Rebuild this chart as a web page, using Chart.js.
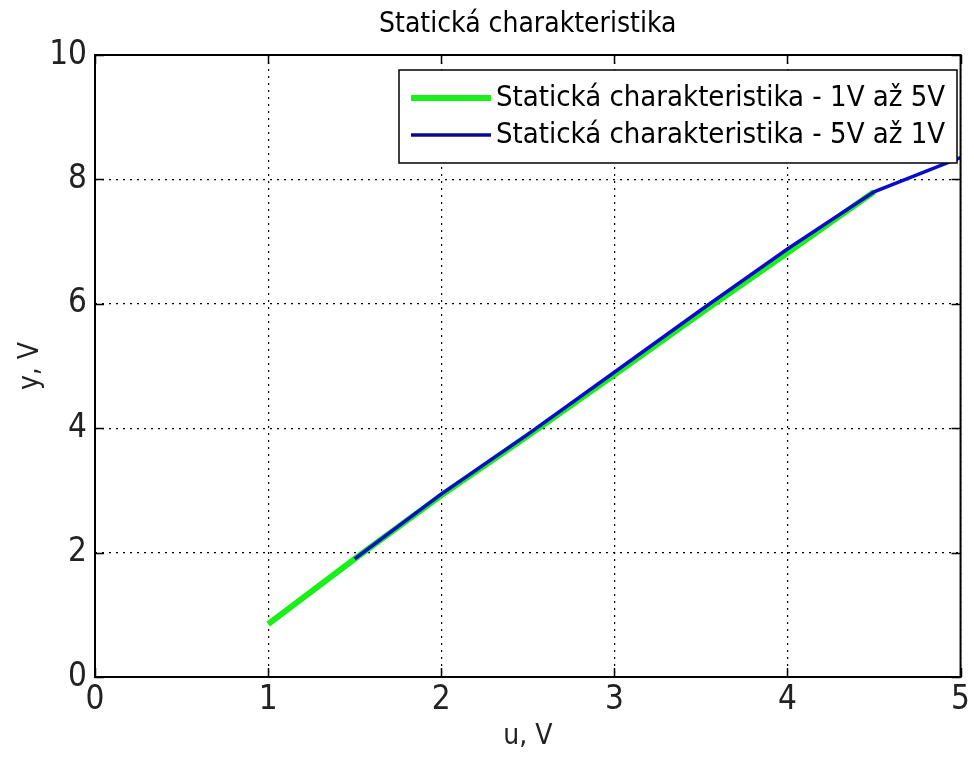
<!DOCTYPE html>
<html>
<head>
<meta charset="utf-8">
<script src="https://cdn.jsdelivr.net/npm/chart.js@4"></script>
<style>
  html, body { margin: 0; padding: 0; background: #fff; }
  #wrap { width: 974px; height: 758px; }
</style>
</head>
<body>
<div id="wrap"><canvas id="graf"></canvas></div>
<script>
// data
const uNahoru = [1, 1.5, 2, 2.5, 3, 3.5, 4, 4.5];
const yNahoru = [0.85, 1.9, 2.92, 3.88, 4.86, 5.85, 6.82, 7.8];
const uDolu = [5, 4.5, 4, 3.5, 3, 2.5, 2, 1.5];
const yDolu = [8.35, 7.8, 6.88, 5.9, 4.9, 3.9, 2.94, 1.9];
const xTicks = [0, 1, 2, 3, 4, 5];
const yTicks = [0, 2, 4, 6, 8, 10];

const PISMO = "'Liberation Sans Narrow', 'DejaVu Sans Condensed', 'Arial Narrow', Arial, sans-serif";

function body(us, ys) {
    return us.map((u, i) => ({ x: u, y: ys[i] }));
}

// frame, inner ticks, title and legend drawn like MATLAB does
const matlabStyl = {
    id: 'matlabStyl',
    afterDraw(chart) {
        const ctx = chart.ctx;
        const a = chart.chartArea;
        const sx = chart.scales.x, sy = chart.scales.y;
        ctx.save();
        ctx.strokeStyle = '#000';
        ctx.lineWidth = 2;
        ctx.strokeRect(a.left, a.top, a.right - a.left, a.bottom - a.top);

        ctx.lineWidth = 1.5;
        xTicks.forEach(t => {
            const px = Math.round(sx.getPixelForValue(t)) + 0.5;
            ctx.beginPath();
            ctx.moveTo(px, a.bottom); ctx.lineTo(px, a.bottom - 9);
            ctx.moveTo(px, a.top); ctx.lineTo(px, a.top + 9);
            ctx.stroke();
        });
        yTicks.forEach(t => {
            const py = Math.round(sy.getPixelForValue(t)) + 0.5;
            ctx.beginPath();
            ctx.moveTo(a.left, py); ctx.lineTo(a.left + 9, py);
            ctx.moveTo(a.right, py); ctx.lineTo(a.right - 9, py);
            ctx.stroke();
        });

        // title
        ctx.fillStyle = '#000';
        ctx.font = '28px ' + PISMO;
        ctx.textAlign = 'center';
        ctx.textBaseline = 'middle';
        ctx.fillText('Statická charakteristika', (a.left + a.right) / 2, 25);

        // legend box
        const lx = 399, ly = 70, lw = 558, lh = 93;
        ctx.fillStyle = '#fff';
        ctx.fillRect(lx, ly, lw, lh);
        ctx.strokeStyle = '#000';
        ctx.lineWidth = 1.5;
        ctx.strokeRect(lx, ly, lw, lh);
        ctx.font = '29px ' + PISMO;
        ctx.textAlign = 'left';
        chart.data.datasets.forEach((ds, i) => {
            const ry = ly + 28 + i * 37;
            ctx.strokeStyle = ds.legendColor || ds.borderColor;
            ctx.lineWidth = ds.borderWidth;
            ctx.beginPath();
            ctx.moveTo(lx + 12, ry); ctx.lineTo(lx + 92, ry);
            ctx.stroke();
            ctx.fillStyle = '#000';
            ctx.fillText(ds.label, lx + 97, ry);
        });
        ctx.restore();
    }
};

const ctx = document.getElementById('graf').getContext('2d');
new Chart(ctx, {
    type: 'line',
    data: {
        datasets: [{
            label: 'Statická charakteristika - 1V až 5V',
            data: body(uNahoru, yNahoru),
            borderColor: '#19ef19',
            borderWidth: 6,
            pointRadius: 0,
            order: 2
        }, {
            label: 'Statická charakteristika - 5V až 1V',
            data: body(uDolu, yDolu),
            borderColor: '#0b0bc8',
            legendColor: '#0a0a90',
            borderWidth: 3.5,
            pointRadius: 0,
            order: 1
        }]
    },
    options: {
        responsive: true,
        maintainAspectRatio: false,
        animation: false,
        layout: { padding: { top: 55, right: 11, left: 0, bottom: 0 } },
        plugins: {
            legend: { display: false },
            tooltip: { enabled: false },
            title: { display: false }
        },
        scales: {
            x: {
                type: 'linear',
                min: 0,
                max: 5,
                afterBuildTicks: s => { s.ticks = xTicks.map(v => ({ value: v })); },
                afterFit: s => { s.height = 81; },
                ticks: { color: '#222', font: { size: 33, family: PISMO }, padding: 4, maxRotation: 0 },
                grid: { color: '#000', lineWidth: 1.2, drawTicks: false },
                border: { display: false, dash: [2, 5] },
                title: { display: true, text: 'u, V', color: '#222', font: { size: 28, family: PISMO }, padding: { top: 0, bottom: 4 } }
            },
            y: {
                type: 'linear',
                min: 0,
                max: 10,
                afterBuildTicks: s => { s.ticks = yTicks.map(v => ({ value: v })); },
                afterFit: s => { s.width = 95; },
                ticks: { color: '#222', font: { size: 33, family: PISMO }, padding: 8 },
                grid: { color: '#000', lineWidth: 1.2, drawTicks: false },
                border: { display: false, dash: [2, 5] },
                title: { display: true, text: 'y, V', color: '#222', font: { size: 28, family: PISMO }, padding: { top: 14, bottom: 0 } }
            }
        }
    },
    plugins: [matlabStyl]
});
</script>
</body>
</html>
